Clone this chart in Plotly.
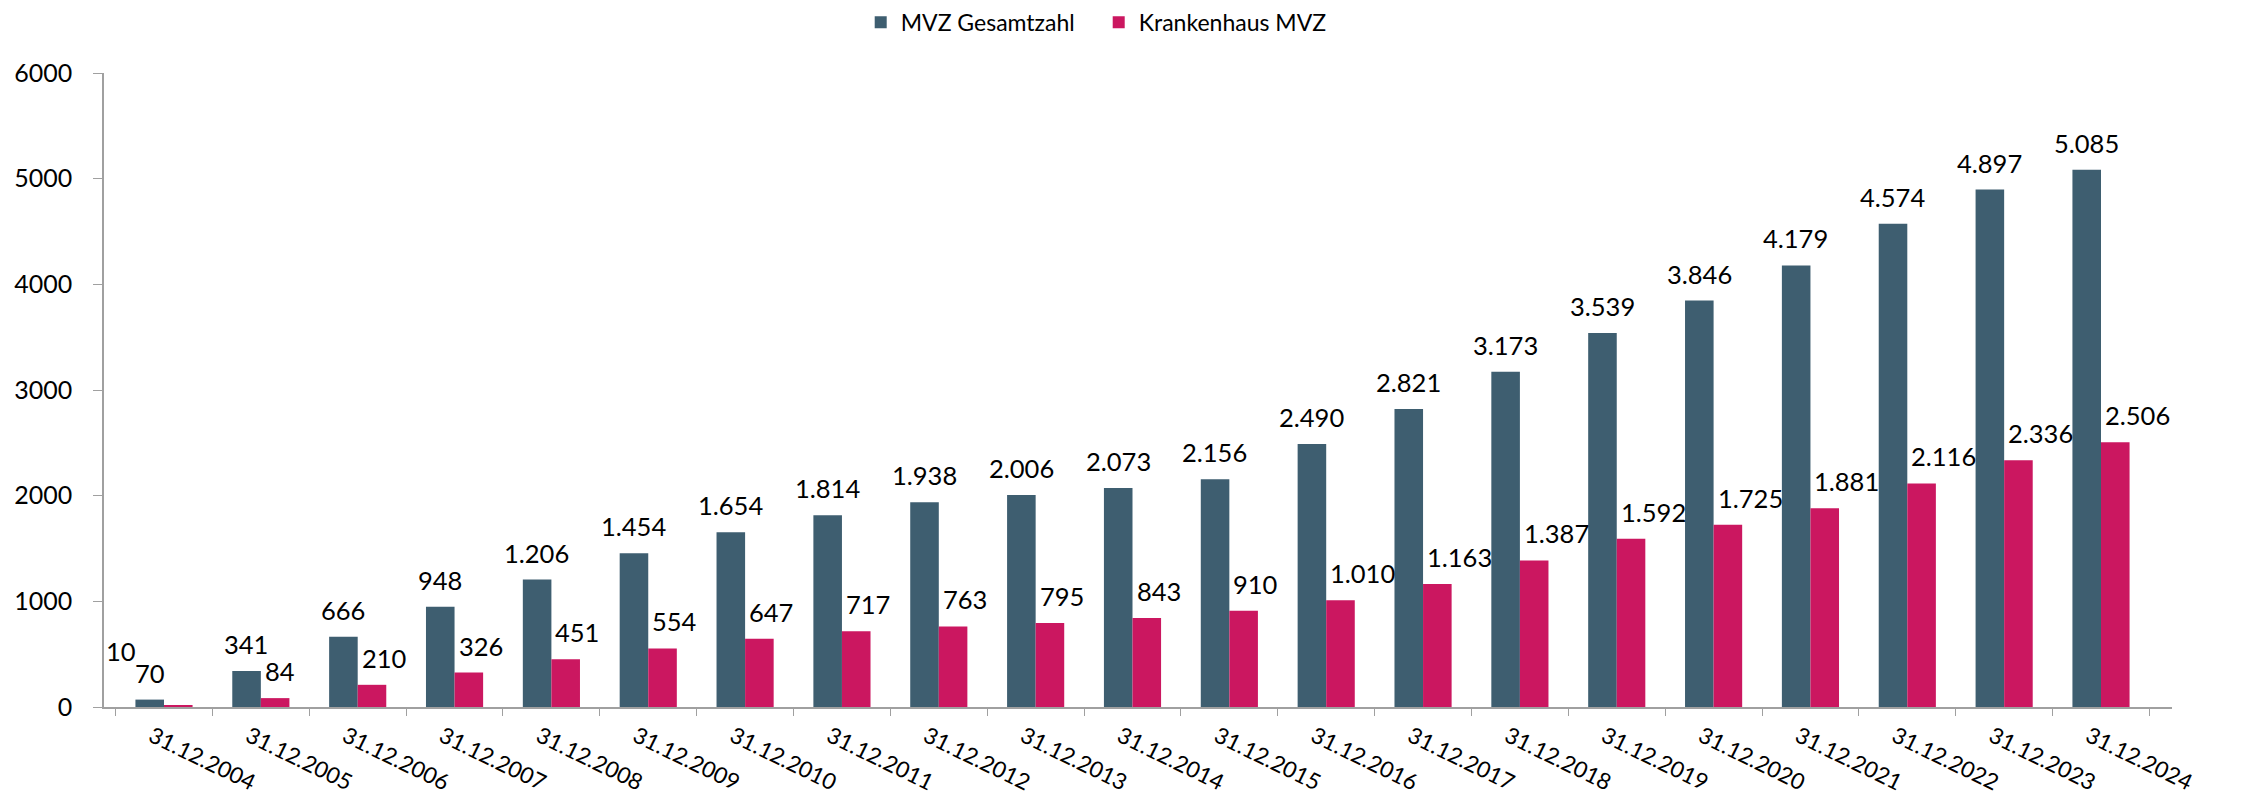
import plotly.graph_objects as go

categories = ["31.12.%d" % y for y in range(2004, 2025)]
mvz_gesamt = [70, 341, 666, 948, 1206, 1454, 1654, 1814, 1938, 2006, 2073,
              2156, 2490, 2821, 3173, 3539, 3846, 4179, 4574, 4897, 5085]
krankenhaus_mvz = [10, 84, 210, 326, 451, 554, 647, 717, 763, 795, 843,
                   910, 1010, 1163, 1387, 1592, 1725, 1881, 2116, 2336, 2506]
y_ticks = [0, 1000, 2000, 3000, 4000, 5000, 6000]

FONT = "Lato"
TEAL = "#3e5e70"
PINK = "#cb1760"


def de_fmt(v):
    return f"{v:,}".replace(",", ".")


fig = go.Figure()
fig.add_trace(go.Bar(x=categories, y=mvz_gesamt, name="MVZ Gesamtzahl",
                     marker=dict(color=TEAL, line=dict(width=0))))
fig.add_trace(go.Bar(x=categories, y=krankenhaus_mvz, name="Krankenhaus MVZ",
                     marker=dict(color=PINK, line=dict(width=0))))

annotations = []
for i, (c, a, b) in enumerate(zip(categories, mvz_gesamt, krankenhaus_mvz)):
    annotations.append(dict(x=c, y=a, text=de_fmt(a), showarrow=False,
                            xanchor="center", yanchor="bottom",
                            xshift=-14.5, yshift=10,
                            font=dict(family=FONT, size=25.5, color="black")))
    if i == 0:
        annotations.append(dict(x=c, y=b, text=de_fmt(b), showarrow=False,
                                xanchor="left", yanchor="bottom",
                                xshift=-60, yshift=38,
                                font=dict(family=FONT, size=25.5, color="black")))
    else:
        annotations.append(dict(x=c, y=b, text=de_fmt(b), showarrow=False,
                                xanchor="left", yanchor="bottom",
                                xshift=2, yshift=10,
                                font=dict(family=FONT, size=25.5, color="black")))

fig.update_layout(
    width=2241, height=793,
    margin=dict(l=96, r=77, t=65, b=94, autoexpand=False),
    paper_bgcolor="white", plot_bgcolor="white",
    barmode="group", bargap=0.41, bargroupgap=0,
    font=dict(family=FONT, color="black"),
    annotations=annotations,
    legend=dict(orientation="h", x=0.481, xanchor="center",
                yref="container", y=0.982, yanchor="middle",
                font=dict(family=FONT, size=23, color="black"),
                entrywidth=193, entrywidthmode="pixels",
                itemsizing="constant"),
    xaxis=dict(type="category", showline=True, linecolor="#a0a0a0", linewidth=1.5,
               ticks="outside", tickson="boundaries", ticklen=7, tickcolor="#a0a0a0",
               tickangle=26, showgrid=False, automargin=False,
               ticklabelshift=-12, ticklabelstandoff=6,
               tickfont=dict(family=FONT, size=22.5, color="black")),
    yaxis=dict(range=[0, 6000], tickvals=y_ticks, showline=True,
               linecolor="#a0a0a0", linewidth=1.5, ticks="outside", ticklen=9,
               tickcolor="#a0a0a0", showgrid=False, zeroline=False,
               ticklabelstandoff=16, automargin=False,
               tickfont=dict(family=FONT, size=25, color="black")),
)

fig.write_html("out.html")
